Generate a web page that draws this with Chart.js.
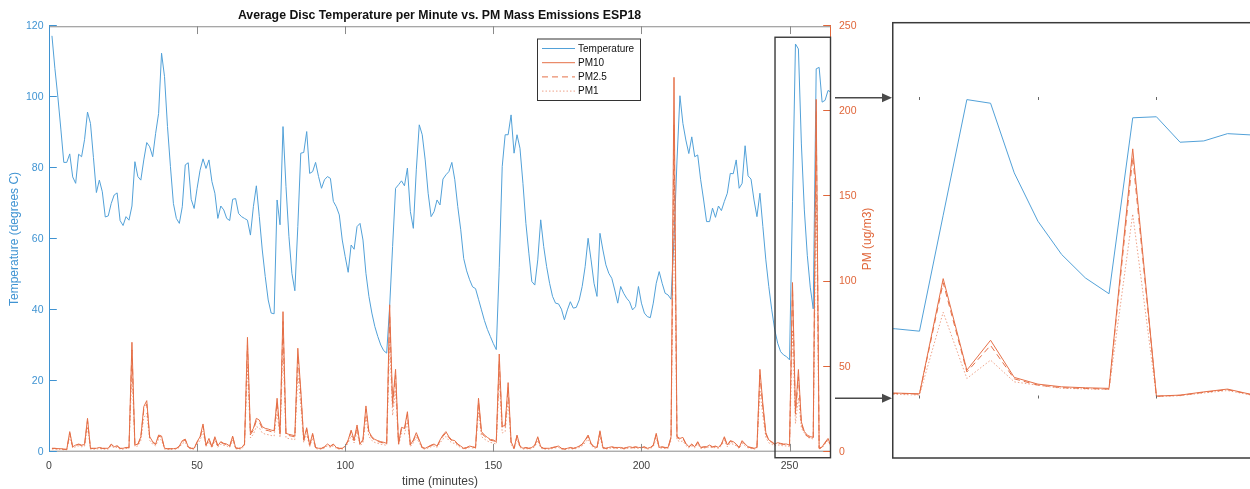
<!DOCTYPE html>
<html>
<head>
<meta charset="utf-8">
<title>Average Disc Temperature per Minute vs. PM Mass Emissions ESP18</title>
<script src="https://cdn.jsdelivr.net/npm/chart.js@4.4.1/dist/chart.umd.min.js"></script>
<style>
  html, body { margin: 0; padding: 0; background: #fff; }
  #wrap { position: relative; width: 1250px; height: 489px; overflow: hidden; }
  #main { position: absolute; left: 0; top: 0; }
  #zoom { position: absolute; left: 892px; top: 0; }
</style>
</head>
<body>
<div id="wrap">
  <canvas id="main" width="1250" height="489"></canvas>
  <canvas id="zoom" width="358" height="489"></canvas>
</div>
<script>
// one value per minute, minute 1..264
const temperature = [
  117.3,108,100,91,81.6,81.6,84,77.5,75.7,83.9,
  83.2,88,95.8,92.6,83,73.1,76.6,73.3,66.2,66.5,
  70,72.4,73,65.2,63.8,66.3,65.3,69.3,81.8,77.6,
  76.6,82.3,87.2,86,83.2,89.8,95.4,112.4,105.8,91.7,
  80.4,70,65.8,64.4,69.1,80.9,81.5,71.2,68.6,74.3,
  79.4,82.6,79.9,82.3,76.2,72.9,65.8,69.3,68.2,65.8,
  65.2,71.2,71.4,67.2,66.3,65.8,65.3,61.1,69.1,75,
  66.3,56.9,49.4,42.8,39.1,38.9,71,64,91.7,74.8,
  60.7,50.3,45.4,63.5,84.2,84.4,90.3,78.5,79,81.6,
  77.6,74.3,76.7,77.6,77.1,70.6,69.1,66.8,59.7,55,
  50.6,58.3,57.1,63.5,64.4,59.7,50.3,43.8,39.1,35.3,
  32.5,30.1,28.5,27.8,40.9,57.9,74.3,75.3,76.4,75,
  80,67.7,63,79.5,92.2,89.4,82.3,72.9,66.3,67.7,
  71,69.6,76.9,78.1,79,81.6,76.7,69.1,62.6,54.5,
  51,48.5,46.5,46,43,40,37,34.5,32.5,30.5,
  28.8,52,80.4,89.4,89.4,95,84.2,89.4,85.6,75.7,
  64.4,56,48,47,54.1,65.4,57.9,52.2,47.5,43.8,
  41.9,41.7,40.2,37.2,40,42.3,40.5,40.7,42.8,46.6,
  52.2,60.2,54.1,47.5,43.8,61.6,56.9,52.7,50.3,48.9,
  45.6,41.9,46.6,44.7,43.3,42.3,40,40.9,46.6,41.9,
  39.1,38.1,37.8,41.9,47.5,50.8,47.5,44.7,44.2,43,
  60,82,100.4,92.6,87.9,84.1,88.8,83.2,83.7,76.7,
  71,64.9,64.9,68.7,66.1,69.3,68,70.6,72.9,78.5,
  78.4,82.3,74.3,75.7,86.3,77.8,76.9,71,66.3,72.9,
  63.5,54.1,46.6,40,34.4,30.6,28.2,27.3,26.8,25.9,
  70.5,115,113.6,86.8,68.2,55.4,46.4,40.3,108,108.4,
  98.6,99.1,101.9,101.4
];
const pm10 = [
  2,2,1.8,1.8,1.5,1.4,11.8,2.9,3.9,4.5,
  3.9,4.2,19.6,2,2,2,2.5,2,2,2,
  4.5,2.9,3.5,2,2,2.5,2.5,64.3,3.9,4.5,
  8.8,26.5,30,8.8,5.9,4.5,9.8,9.2,2,1.8,
  1.8,1.8,2,3.3,6.5,7.4,2.9,2,2,5.9,
  8.8,16.3,3.9,7.8,2.9,8.8,3.5,5.9,4.9,4.5,
  3.3,9.2,2.3,2,2.3,4.5,67.2,10.8,13.7,19.6,
  18.6,14.7,13.7,13.3,12.7,12.3,31.4,11.2,82.3,10.8,
  10.2,9.8,9.4,60.8,36.3,7.2,14.1,3.9,10.8,2.5,
  2,2,2.9,4.5,3.3,4.5,2.5,2,2,3.3,
  6.9,12.7,6.9,15.7,4.5,7.2,26.9,11.8,8.8,7.2,
  6.5,5.9,5.5,4.9,86.3,28.4,48.4,4.9,14.3,13.7,
  23.5,4,6.9,11.2,6.9,2.5,2,2.9,3.9,4.5,
  3.3,6.9,9.8,11.8,8.8,6.9,6.5,4.5,3.3,2,
  2.5,3.3,2.9,2.5,31.4,11.8,9.8,8.4,7.2,6.9,
  5.9,57.4,14.7,15.7,40.6,5.9,2,9.8,3.3,2,
  2.5,2,2.5,3.9,8.8,2.9,2,2,2,2.5,
  2.9,3.3,2,1.6,2,2.5,2,2.5,3.3,4.5,
  6.9,9.8,4.9,2.9,2.5,12.3,2.5,2,2.5,2.9,
  2.5,2.5,2.5,2,2.5,2.9,2.5,2.9,2.5,2.5,
  2.9,2,2.5,3.9,10.8,2.5,2.9,2.5,2.5,8.8,
  220,9,7.8,8.4,4.9,2.9,4.5,2.9,5.9,2.5,
  2.9,2.9,3.9,2.9,3.3,2.5,4.5,8.8,3.9,6.5,
  5.9,4.5,2.5,6.5,4.5,2.9,2.5,2,2.5,48.4,
  28,11.2,6.9,5.9,4.5,5.3,4.9,4.5,4.5,3.9,
  99.4,23.5,48.3,17.5,11.9,9.7,8.9,8.4,207,2,
  2.8,5.5,7.8,3.4
];
const pm25 = [
  1.9,1.9,1.7,1.7,1.4,1.3,10.9,2.7,3.6,4.2,
  3.6,3.9,18.2,1.9,1.9,1.9,2.3,1.9,1.9,1.9,
  4.2,2.7,3.3,1.9,1.9,2.3,2.3,59.8,3.6,4.2,
  8.2,24.6,27.9,8.2,5.5,4.2,9.1,8.6,1.9,1.7,
  1.7,1.7,1.9,3.1,6,6.9,2.7,1.9,1.9,5.5,
  8.2,15.2,3.6,7.3,2.7,8.2,3.3,5.5,4.6,4.2,
  3.1,8.6,2.1,1.9,2.1,4.2,62.5,10,12.7,18.2,
  17.3,13.7,12.7,12.4,11.8,11.4,29.2,10.4,76.5,10,
  9.5,9.1,8.7,56.5,33.8,6.7,13.1,3.6,10,2.3,
  1.9,1.9,2.7,4.2,3.1,4.2,2.3,1.9,1.9,3.1,
  6.4,11.8,6.4,14.6,4.2,6.7,25,11,8.2,6.7,
  6,5.5,5.1,4.6,80.3,26.4,45,4.6,13.3,12.7,
  21.9,3.7,6.4,10.4,6.4,2.3,1.9,2.7,3.6,4.2,
  3.1,6.4,9.1,11,8.2,6.4,6,4.2,3.1,1.9,
  2.3,3.1,2.7,2.3,29.2,11,9.1,7.8,6.7,6.4,
  5.5,53.4,13.7,14.6,37.8,5.5,1.9,9.1,3.1,1.9,
  2.3,1.9,2.3,3.6,8.2,2.7,1.9,1.9,1.9,2.3,
  2.7,3.1,1.9,1.5,1.9,2.3,1.9,2.3,3.1,4.2,
  6.4,9.1,4.6,2.7,2.3,11.4,2.3,1.9,2.3,2.7,
  2.3,2.3,2.3,1.9,2.3,2.7,2.3,2.7,2.3,2.3,
  2.7,1.9,2.3,3.6,10,2.3,2.7,2.3,2.3,8.2,
  192,8.4,7.3,7.8,4.6,2.7,4.2,2.7,5.5,2.3,
  2.7,2.7,3.6,2.7,3.1,2.3,4.2,8.2,3.6,6,
  5.5,4.2,2.3,6,4.2,2.7,2.3,1.9,2.3,45,
  26,10.4,6.4,5.5,4.2,4.9,4.6,4.2,4.2,3.6,
  96,22,44,16.3,11.1,9,8.3,7.8,200,1.9,
  2.6,5.1,7.3,3.2
];
const pm1 = [
  1.5,1.5,1.4,1.4,1.1,1.1,8.9,2.2,2.9,3.4,
  2.9,3.2,14.7,1.5,1.5,1.5,1.9,1.5,1.5,1.5,
  3.4,2.2,2.6,1.5,1.5,1.9,1.9,48.2,2.9,3.4,
  6.6,19.9,22.5,6.6,4.4,3.4,7.4,6.9,1.5,1.4,
  1.4,1.4,1.5,2.5,4.9,5.6,2.2,1.5,1.5,4.4,
  6.6,12.2,2.9,5.9,2.2,6.6,2.6,4.4,3.7,3.4,
  2.5,6.9,1.7,1.5,1.7,3.4,50.4,8.1,10.3,14.7,
  14,11,10.3,10,9.5,9.2,23.6,8.4,61.7,8.1,
  7.7,7.4,7.1,45.6,27.2,5.4,10.6,2.9,8.1,1.9,
  1.5,1.5,2.2,3.4,2.5,3.4,1.9,1.5,1.5,2.5,
  5.2,9.5,5.2,11.8,3.4,5.4,20.2,8.9,6.6,5.4,
  4.9,4.4,4.1,3.7,64.7,21.3,36.3,3.7,10.7,10.3,
  17.6,3,5.2,8.4,5.2,1.9,1.5,2.2,2.9,3.4,
  2.5,5.2,7.4,8.9,6.6,5.2,4.9,3.4,2.5,1.5,
  1.9,2.5,2.2,1.9,23.6,8.9,7.4,6.3,5.4,5.2,
  4.4,43,11,11.8,30.5,4.4,1.5,7.4,2.5,1.5,
  1.9,1.5,1.9,2.9,6.6,2.2,1.5,1.5,1.5,1.9,
  2.2,2.5,1.5,1.2,1.5,1.9,1.5,1.9,2.5,3.4,
  5.2,7.4,3.7,2.2,1.9,9.2,1.9,1.5,1.9,2.2,
  1.9,1.9,1.9,1.5,1.9,2.2,1.9,2.2,1.9,1.9,
  2.2,1.5,1.9,2.9,8.1,1.9,2.2,1.9,1.9,6.6,
  160,6.8,5.9,6.3,3.7,2.2,3.4,2.2,4.4,1.9,
  2.2,2.2,2.9,2.2,2.5,1.9,3.4,6.6,2.9,4.9,
  4.4,3.4,1.9,4.9,3.4,2.2,1.9,1.5,1.9,36.3,
  21,8.4,5.2,4.4,3.4,4,3.7,3.4,3.4,2.9,
  71.5,16.6,31.8,13.8,11,8.5,7.9,7.5,153,1.6,
  2.3,4.6,6.6,2.8
];
const seriesNames = ['Temperature', 'PM10', 'PM2.5', 'PM1'];
const xTicks = [0, 50, 100, 150, 200, 250];
const tempTicks = [0, 20, 40, 60, 80, 100, 120];
const pmTicks = [0, 50, 100, 150, 200, 250];
const zoomTicks = [250, 255, 260];

const BLUE = '#3f93d2';
const BLUE_LINE = 'rgb(82,161,216)';
const ORANGE = '#e0663a';
const ORANGE_LINE = 'rgb(229,112,72)';
const FONT = "'Liberation Sans', Arial, Helvetica, sans-serif";
Chart.defaults.font.family = FONT;

const minutes = temperature.map((v, i) => i + 1);
const pts = arr => arr.map((v, i) => ({ x: minutes[i], y: v }));

function makeSets() {
  return [
    { label: seriesNames[0], data: pts(temperature), yAxisID: 'yT', borderColor: BLUE_LINE, borderWidth: 1, order: 4 },
    { label: seriesNames[1], data: pts(pm10), yAxisID: 'yPM', borderColor: ORANGE_LINE, borderWidth: 1, order: 1 },
    { label: seriesNames[2], data: pts(pm25), yAxisID: 'yPM', borderColor: ORANGE_LINE, borderWidth: 1, borderDash: [6, 4], order: 2 },
    { label: seriesNames[3], data: pts(pm1), yAxisID: 'yPM', borderColor: 'rgba(229,112,72,0.65)', borderWidth: 1, borderDash: [1.5, 2], order: 3 }
  ].map(d => Object.assign(d, { pointRadius: 0, tension: 0, fill: false }));
}

const setTicks = list => scale => { scale.ticks = list.map(v => ({ value: v })); };

// axis lines + inward ticks, right axis title, zoom box, arrows, legend
const mainDecor = {
  id: 'mainDecor',
  afterDatasetsDraw(chart) {
    const { ctx, chartArea: a, scales } = chart;
    const tl = 7.8;
    ctx.save();
    ctx.lineWidth = 1;
    ctx.strokeStyle = '#8a8a8a';
    ctx.beginPath();
    ctx.moveTo(a.left, a.top + 0.5); ctx.lineTo(a.right, a.top + 0.5);
    ctx.moveTo(a.left, a.bottom - 0.5); ctx.lineTo(a.right, a.bottom - 0.5);
    xTicks.forEach(v => {
      const x = Math.round(scales.x.getPixelForValue(v)) + 0.5;
      ctx.moveTo(x, a.top); ctx.lineTo(x, a.top + tl);
      ctx.moveTo(x, a.bottom); ctx.lineTo(x, a.bottom - tl);
    });
    ctx.stroke();
    ctx.strokeStyle = BLUE;
    ctx.beginPath();
    ctx.moveTo(a.left + 0.5, a.top); ctx.lineTo(a.left + 0.5, a.bottom);
    tempTicks.forEach(v => {
      const y = Math.round(scales.yT.getPixelForValue(v)) - 0.5;
      ctx.moveTo(a.left, y); ctx.lineTo(a.left + tl, y);
    });
    ctx.stroke();
    ctx.strokeStyle = ORANGE;
    ctx.beginPath();
    ctx.moveTo(a.right - 0.5, a.top); ctx.lineTo(a.right - 0.5, a.bottom);
    pmTicks.forEach(v => {
      const y = Math.round(scales.yPM.getPixelForValue(v)) - 0.5;
      ctx.moveTo(a.right, y); ctx.lineTo(a.right - tl, y);
    });
    ctx.stroke();

    // right axis title reads bottom to top, as on the left
    ctx.save();
    ctx.translate(868, (a.top + a.bottom) / 2);
    ctx.rotate(-Math.PI / 2);
    ctx.fillStyle = ORANGE;
    ctx.font = '12px ' + FONT;
    ctx.textAlign = 'center';
    ctx.textBaseline = 'middle';
    ctx.fillText('PM (ug/m3)', 0, 0);
    ctx.restore();

    // box around the magnified region
    const bx0 = scales.x.getPixelForValue(245.1);
    const by0 = scales.yT.getPixelForValue(116.9);
    const by1 = scales.yT.getPixelForValue(-1.7);
    ctx.strokeStyle = '#3a3a3a';
    ctx.lineWidth = 1.4;
    ctx.strokeRect(bx0, by0, a.right - 0.5 - bx0, by1 - by0);

    // arrows to the inset
    ctx.fillStyle = '#4a4a4a';
    ctx.strokeStyle = '#4a4a4a';
    ctx.lineWidth = 1.4;
    [97.7, 398.3].forEach(y => {
      ctx.beginPath();
      ctx.moveTo(835, y); ctx.lineTo(884, y);
      ctx.stroke();
      ctx.beginPath();
      ctx.moveTo(892, y); ctx.lineTo(882, y - 4.5); ctx.lineTo(882, y + 4.5);
      ctx.closePath();
      ctx.fill();
    });

    // legend
    const lx = 537, ly = 38.5, lw = 103, lh = 61.5;
    ctx.fillStyle = '#fff';
    ctx.fillRect(lx, ly, lw, lh);
    ctx.strokeStyle = '#333';
    ctx.lineWidth = 1;
    ctx.strokeRect(lx + 0.5, ly + 0.5, lw, lh);
    ctx.font = '10px ' + FONT;
    ctx.textBaseline = 'middle';
    chart.data.datasets.forEach((d, i) => {
      const y = ly + 10 + i * 14.2;
      ctx.strokeStyle = d.borderColor;
      ctx.setLineDash(d.borderDash || []);
      ctx.beginPath();
      ctx.moveTo(542, y); ctx.lineTo(575, y);
      ctx.stroke();
      ctx.setLineDash([]);
      ctx.fillStyle = '#111';
      ctx.fillText(d.label, 578, y + 0.5);
    });
    ctx.restore();
  }
};

new Chart(document.getElementById('main'), {
  type: 'line',
  data: { datasets: makeSets() },
  options: {
    responsive: false,
    animation: false,
    events: [],
    layout: { padding: { left: 0, right: 371, top: 0, bottom: 0 } },
    plugins: {
      legend: { display: false },
      tooltip: { enabled: false },
      title: {
        display: true,
        text: 'Average Disc Temperature per Minute vs. PM Mass Emissions ESP18',
        color: '#111',
        font: { size: 12.3, weight: 'bold' },
        padding: { top: 8.5, bottom: 3 }
      }
    },
    scales: {
      x: {
        type: 'linear', min: 0, max: 264,
        afterBuildTicks: setTicks(xTicks),
        afterFit: s => { s.height = 37.3; },
        grid: { display: false, drawTicks: false },
        border: { display: false },
        ticks: { color: '#404040', font: { size: 10.5 }, padding: 8, maxRotation: 0 },
        title: { display: true, text: 'time (minutes)', color: '#404040', font: { size: 12 }, padding: { top: 0, bottom: 0.5 } }
      },
      yT: {
        position: 'left', min: 0, max: 120,
        afterBuildTicks: setTicks(tempTicks),
        afterFit: s => { s.width = 49; },
        grid: { display: false, drawTicks: false },
        border: { display: false },
        ticks: { color: BLUE, font: { size: 10.5 }, padding: 5.5 },
        title: { display: true, text: 'Temperature (degrees C)', color: BLUE, font: { size: 12 }, padding: { top: 7.8, bottom: 0 } }
      },
      yPM: {
        position: 'right', min: 0, max: 250,
        afterBuildTicks: setTicks(pmTicks),
        afterFit: s => { s.width = 48; },
        grid: { display: false, drawTicks: false },
        border: { display: false },
        ticks: { color: ORANGE, font: { size: 10.5 }, padding: 8 },
        title: { display: false }
      }
    }
  },
  plugins: [mainDecor]
});

// magnified view of the last minutes
const zoomDecor = {
  id: 'zoomDecor',
  afterDraw(chart) {
    const { ctx, chartArea: a, scales } = chart;
    ctx.save();
    ctx.strokeStyle = '#666';
    ctx.lineWidth = 1;
    ctx.beginPath();
    zoomTicks.forEach(v => {
      const x = Math.round(scales.x.getPixelForValue(v)) + 0.5;
      ctx.moveTo(x, a.top); ctx.lineTo(x, a.top + 3);
      ctx.moveTo(x, a.bottom); ctx.lineTo(x, a.bottom - 3);
    });
    ctx.stroke();
    ctx.strokeStyle = '#3a3a3a';
    ctx.lineWidth = 1.5;
    ctx.strokeRect(0.75, 22.7, 400, 435.3);
    ctx.restore();
  }
};

new Chart(document.getElementById('zoom'), {
  type: 'line',
  data: { datasets: makeSets() },
  options: {
    responsive: false,
    animation: false,
    events: [],
    layout: { padding: { left: 0, right: 0, top: 97, bottom: 90.5 } },
    plugins: { legend: { display: false }, tooltip: { enabled: false } },
    scales: {
      x: { type: 'linear', min: 248.84, max: 263.95, display: false },
      yT: { position: 'left', min: 0, max: 116, display: false },
      yPM: { position: 'right', min: 0, max: 250, display: false }
    }
  },
  plugins: [zoomDecor]
});
</script>
</body>
</html>
